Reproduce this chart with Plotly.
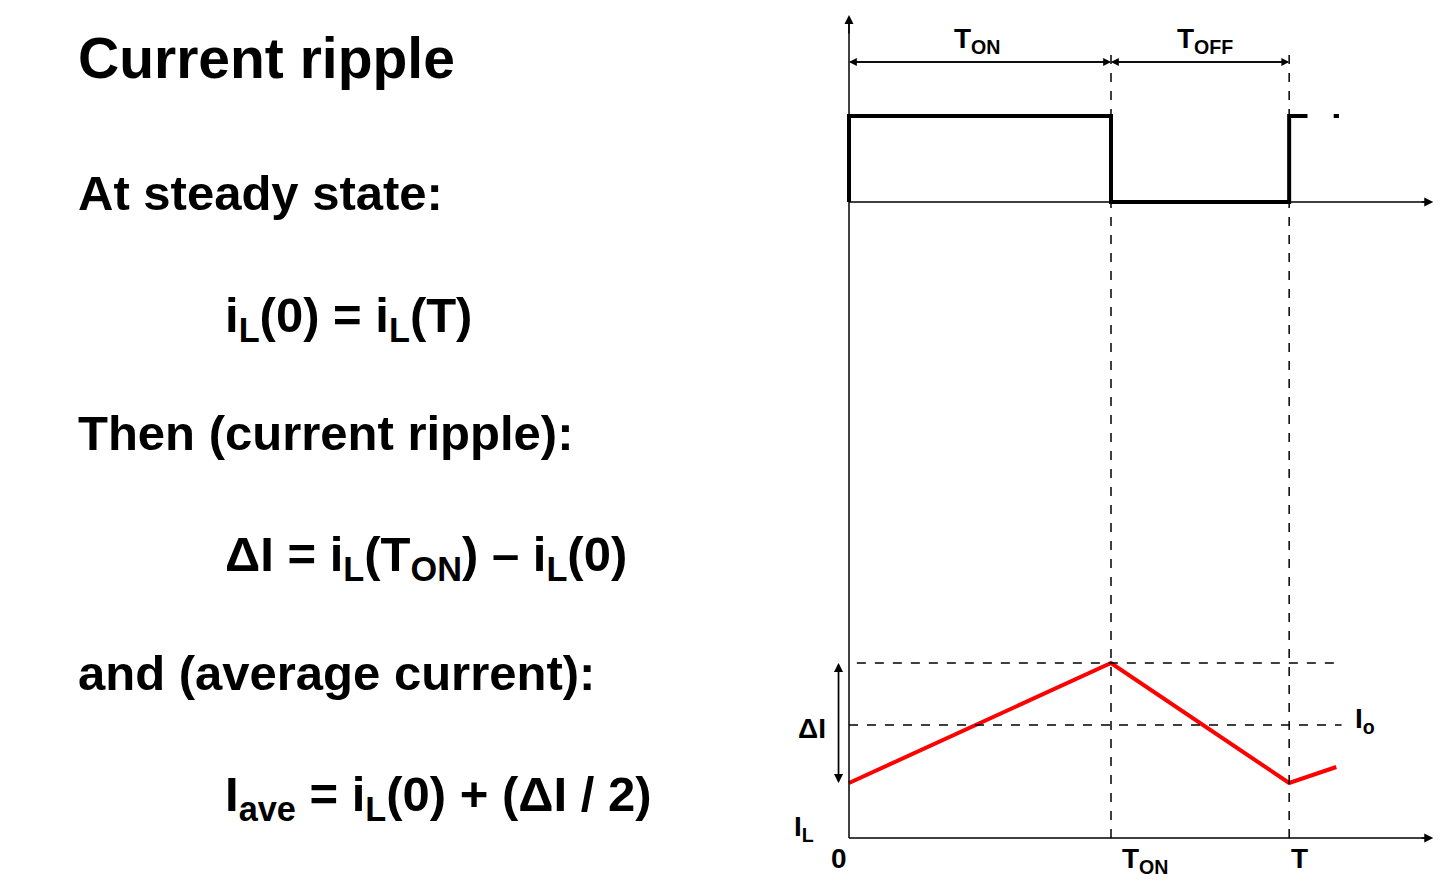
import plotly.graph_objects as go

# time in units of T_ON, y in arbitrary units (pixel-like)
T_ON = 1.0
T = 1.68
X_END = 2.23
Y_TOP = 823

switch_t = [0, 0, T_ON, T_ON, T, T, 1.75]
switch_v = [636, 722, 722, 636, 636, 722, 722]
switch_tail_t = [1.85, 1.87]
switch_tail_v = [722, 722]

il_t = [0, T_ON, T, 1.86]
il_v = [55, 175, 55, 71]
il_peak = 175
il_min = 55
io_level = 113

W, H = 1450, 889
OFF = 8  # page body margin
PX = 262  # pixels per T_ON
X0 = 849 - OFF  # pixel of t=0
Y0 = 838 - OFF  # pixel of y=0
XL = 770 - OFF  # left edge of plot area

fig = go.Figure()
black = "black"
fig.add_trace(go.Scatter(x=switch_t, y=switch_v, mode="lines", line=dict(color=black, width=4)))
fig.add_trace(go.Scatter(x=switch_tail_t, y=switch_tail_v, mode="lines", line=dict(color=black, width=4)))
fig.add_trace(go.Scatter(x=[0, X_END - 0.03], y=[636, 636], mode="lines", line=dict(color=black, width=1.5)))
fig.add_trace(go.Scatter(x=il_t, y=il_v, mode="lines", line=dict(color="red", width=4)))
dash = dict(color=black, width=1.5, dash="dash")
fig.add_trace(go.Scatter(x=[T_ON, T_ON], y=[0, 790], mode="lines", line=dash))
fig.add_trace(go.Scatter(x=[T, T], y=[0, 790], mode="lines", line=dash))
fig.add_trace(go.Scatter(x=[0.03, 1.88], y=[il_peak, il_peak], mode="lines", line=dash))
fig.add_trace(go.Scatter(x=[0, 1.88], y=[io_level, io_level], mode="lines", line=dash))
fig.add_trace(go.Scatter(x=[0, 0], y=[0, Y_TOP - 5], mode="lines", line=dict(color=black, width=1.5)))
fig.add_trace(go.Scatter(x=[0, X_END - 0.03], y=[0, 0], mode="lines", line=dict(color=black, width=1.5)))

ax = dict(xref="x", yref="y", axref="x", ayref="y", showarrow=True,
          arrowhead=2, arrowsize=1.2, arrowwidth=1.5, arrowcolor=black, text="")
ann = [
    dict(ax, x=0, y=Y_TOP, ax=0, ay=Y_TOP - 20),
    dict(ax, x=X_END, y=0, ax=X_END - 0.05, ay=0),
    dict(ax, x=X_END, y=636, ax=X_END - 0.05, ay=636),
    dict(ax, x=0, y=776, ax=T_ON, ay=776, arrowsize=1.2, arrowwidth=1.3),
    dict(ax, x=T_ON, y=776, ax=0, ay=776, arrowsize=1.2, arrowwidth=1.3),
    dict(ax, x=T_ON, y=776, ax=T, ay=776, arrowsize=1.2, arrowwidth=1.3),
    dict(ax, x=T, y=776, ax=T_ON, ay=776, arrowsize=1.2, arrowwidth=1.3),
    dict(ax, x=-0.04, y=il_peak, ax=-0.04, ay=il_min, arrowsize=1.3, arrowwidth=1.4),
    dict(ax, x=-0.04, y=il_min, ax=-0.04, ay=il_peak, arrowsize=1.3, arrowwidth=1.4),
]
lab = dict(xref="x", yref="y", showarrow=False, font=dict(size=28, color=black))
ann += [
    dict(lab, x=0.49, y=798, text="<b>T<sub>ON</sub></b>"),
    dict(lab, x=1.36, y=798, text="<b>T<sub>OFF</sub></b>"),
    dict(lab, x=-0.14, y=110, text="<b>ΔI</b>"),
    dict(lab, x=1.97, y=118, text="<b>I<sub>o</sub></b>"),
    dict(lab, x=-0.17, y=10, text="<b>I<sub>L</sub></b>"),
    dict(lab, x=-0.04, y=-20, text="<b>0</b>"),
    dict(lab, x=T_ON + 0.13, y=-22, text="<b>T<sub>ON</sub></b>"),
    dict(lab, x=T + 0.04, y=-20, text="<b>T</b>"),
]

tx = (78 - OFF - 2) / W
tx2 = (225 - OFF - 2) / W
txt = dict(xref="paper", yref="paper", showarrow=False, xanchor="left", yanchor="middle",
           font=dict(size=49, color=black))
def ty(py):
    return 1 - (py - OFF) / H
ann += [
    dict(txt, x=tx, y=ty(58), text="<b>Current ripple</b>", font=dict(size=57, color=black)),
    dict(txt, x=tx, y=ty(193), text="<b>At steady state:</b>"),
    dict(txt, x=tx2, y=ty(318), text="<b>i<sub>L</sub>(0) = i<sub>L</sub>(T)</b>"),
    dict(txt, x=tx, y=ty(433), text="<b>Then (current ripple):</b>"),
    dict(txt, x=tx2, y=ty(557), text="<b>ΔI = i<sub>L</sub>(T<sub>ON</sub>) – i<sub>L</sub>(0)</b>"),
    dict(txt, x=tx, y=ty(673), text="<b>and (average current):</b>"),
    dict(txt, x=tx2, y=ty(797), text="<b>I<sub>ave</sub> = i<sub>L</sub>(0) + (ΔI / 2)</b>"),
]

fig.update_layout(
    width=W, height=H, margin=dict(l=0, r=0, t=0, b=0),
    paper_bgcolor="white", plot_bgcolor="white", showlegend=False,
    font=dict(family="Liberation Sans, Arial, sans-serif", color=black),
    annotations=ann,
    xaxis=dict(domain=[XL / W, 1 - 12 / W], range=[(XL - X0) / PX, (W - 12 - X0) / PX],
               visible=False),
    yaxis=dict(domain=[0, 1], range=[-(H - Y0), Y0], visible=False),
)
fig.write_html("out.html")
